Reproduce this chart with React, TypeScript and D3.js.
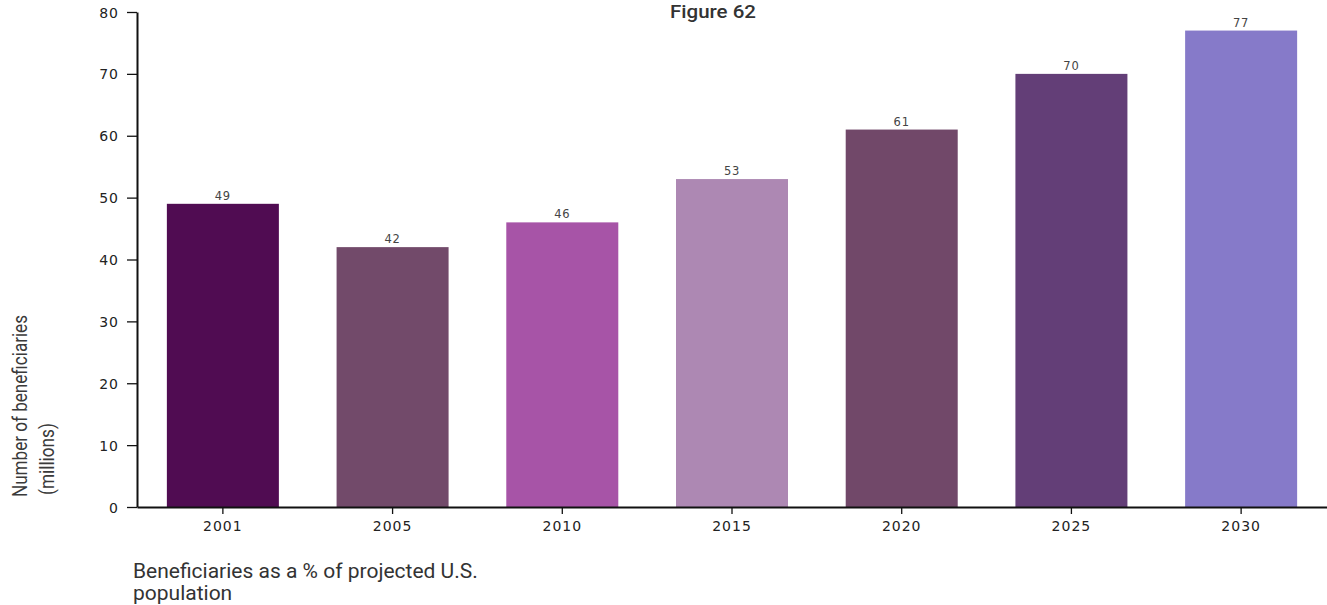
import React, { useEffect, useRef } from "react";
import * as d3 from "d3";

const years = ["2001", "2005", "2010", "2015", "2020", "2025", "2030"];
const beneficiaries = [49, 42, 46, 53, 61, 70, 77];
const barColors = [
  "#500c52",
  "#724a6a",
  "#a754a7",
  "#ad88b3",
  "#714869",
  "#633e77",
  "#867ac9",
];
const yTicks = [0, 10, 20, 30, 40, 50, 60, 70, 80];

const width = 1327;
const height = 605;
const left = 137;
const top = 12;
const bottom = 507;
const right = 1327;

const tickFont = "'DejaVu Sans', sans-serif";

const App = () => {
  const ref = useRef<SVGSVGElement>(null);

  useEffect(() => {
    const svg = d3.select(ref.current);
    svg.selectAll("*").remove();

    const x = d3
      .scaleBand()
      .domain(years)
      .range([left, right])
      .paddingInner(0.34)
      .paddingOuter(0.176);
    const y = d3.scaleLinear().domain([0, 80]).range([bottom, top]);

    const data = years.map((yr, i) => ({
      year: yr,
      value: beneficiaries[i],
      color: barColors[i],
    }));

    svg
      .append("g")
      .selectAll("rect")
      .data(data)
      .join("rect")
      .attr("x", (d) => x(d.year)!)
      .attr("y", (d) => y(d.value))
      .attr("width", x.bandwidth())
      .attr("height", (d) => y(0) - y(d.value))
      .attr("fill", (d) => d.color);

    svg
      .append("g")
      .selectAll("text")
      .data(data)
      .join("text")
      .attr("x", (d) => x(d.year)! + x.bandwidth() / 2)
      .attr("y", (d) => y(d.value) - 4)
      .attr("text-anchor", "middle")
      .attr("font-family", tickFont)
      .attr("font-size", 11.5)
      .attr("letter-spacing", 0.8)
      .attr("fill", "#444")
      .text((d) => d.value);

    const yAxis = svg
      .append("g")
      .attr("transform", `translate(${left},0)`)
      .call(
        d3
          .axisLeft(y)
          .tickValues(yTicks)
          .tickSize(10)
          .tickSizeOuter(0)
          .tickPadding(8)
      );

    const xAxis = svg
      .append("g")
      .attr("transform", `translate(0,${bottom})`)
      .call(d3.axisBottom(x).tickSize(7).tickSizeOuter(0).tickPadding(5));

    [yAxis, xAxis].forEach((g) => {
      g.select(".domain").attr("stroke", "#111").attr("stroke-width", 2);
      g.selectAll(".tick line").attr("stroke", "#111").attr("stroke-width", 1.3);
      g.selectAll(".tick text")
        .attr("font-family", tickFont)
        .attr("font-size", 14)
        .attr("letter-spacing", 1)
        .attr("fill", "#222");
    });
    yAxis.selectAll(".tick text").attr("dy", "0.36em");
    xAxis.selectAll(".tick text").attr("dy", "0.85em");

    svg
      .append("text")
      .attr("x", 713)
      .attr("y", 18)
      .attr("text-anchor", "middle")
      .attr("font-family", "Roboto, sans-serif")
      .attr("font-weight", 500)
      .attr("font-size", 19)
      .attr("textLength", 86)
      .attr("lengthAdjust", "spacingAndGlyphs")
      .attr("fill", "#333")
      .text("Figure 62");

    const yTitle = svg
      .append("g")
      .attr("transform", "rotate(-90)")
      .attr("font-family", "Roboto, sans-serif")
      .attr("font-size", 20)
      .attr("fill", "#3a3a3a");
    yTitle
      .append("text")
      .attr("x", -497)
      .attr("y", 27)
      .attr("textLength", 182)
      .attr("lengthAdjust", "spacingAndGlyphs")
      .text("Number of beneficiaries");
    yTitle
      .append("text")
      .attr("x", -495)
      .attr("y", 54)
      .attr("textLength", 72)
      .attr("lengthAdjust", "spacingAndGlyphs")
      .text("(millions)");

    const note = svg
      .append("g")
      .attr("font-family", "Roboto, sans-serif")
      .attr("font-size", 21)
      .attr("fill", "#333");
    note
      .append("text")
      .attr("x", 133)
      .attr("y", 578)
      .text("Beneficiaries as a % of projected U.S.");
    note.append("text").attr("x", 133).attr("y", 600).text("population");
  }, []);

  return (
    <svg
      ref={ref}
      width={width}
      height={height}
      style={{ position: "absolute", left: 0, top: 0, background: "#fff" }}
    />
  );
};

export default App;
